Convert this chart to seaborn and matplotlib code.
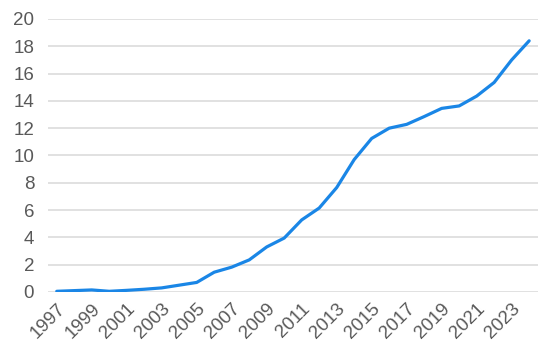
import matplotlib
matplotlib.use("Agg")
import matplotlib.pyplot as plt
import seaborn as sns
import pandas as pd

years = list(range(1997, 2025))
values = [0.05, 0.1, 0.15, 0.05, 0.12, 0.2, 0.3, 0.5, 0.7, 1.45,
          1.82, 2.35, 3.3, 3.95, 5.28, 6.15, 7.65, 9.7, 11.25, 12.0,
          12.28, 12.85, 13.45, 13.63, 14.35, 15.35, 17.0, 18.4]
tick_years = list(range(1997, 2025, 2))
y_ticks = list(range(0, 21, 2))


def main():
    df = pd.DataFrame({"year": years, "value": values})

    sns.set_style("white")
    plt.rcParams["font.family"] = ["Liberation Sans", "DejaVu Sans"]

    fig = plt.figure(figsize=(5.5, 3.58), dpi=100)
    ax = fig.add_axes([0.0873, 0.1844, 0.8907, 0.7626])

    sns.lineplot(data=df, x="year", y="value", ax=ax, color="#1a86e6",
                 linewidth=2.3, solid_capstyle="round")

    ax.set_xlim(1996.5, 2024.5)
    ax.set_ylim(0, 20)
    ax.set_yticks(y_ticks)
    ax.set_xticks(tick_years)
    ax.set_xticklabels([str(y) for y in tick_years], rotation=45, ha="right",
                       rotation_mode="anchor")
    ax.yaxis.grid(True, color="#d9d9d9", linewidth=1.1)
    ax.set_axisbelow(True)
    ax.tick_params(axis="y", length=0, pad=10, labelsize=13.5, colors="#595959")
    ax.tick_params(axis="x", length=0, pad=6, labelsize=13.5, colors="#595959")
    ax.set_xlabel("")
    ax.set_ylabel("")
    for s in ax.spines.values():
        s.set_visible(False)

    fig.savefig("out.png", dpi=100)


if __name__ == "__main__":
    main()
